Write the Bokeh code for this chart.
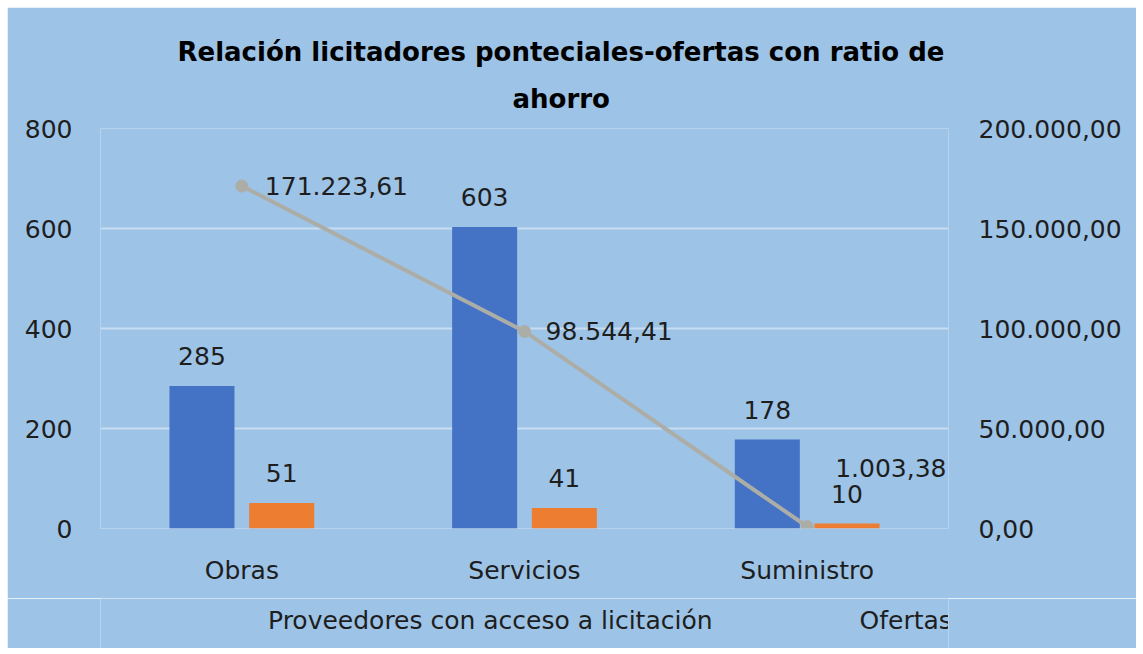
from bokeh.plotting import figure
from bokeh.models import (ColumnDataSource, Range1d, LinearAxis, FixedTicker,
                          Legend, LegendItem, Title, FactorRange, Spacer)
from bokeh.layouts import column, row
from bokeh.transform import dodge
from bokeh.core.properties import value
from bokeh.embed import file_html
from bokeh.resources import INLINE

# ---- data ----
categories = ["Obras", "Servicios", "Suministro"]
proveedores = [285, 603, 178]
ofertas = [51, 41, 10]
ratio_ahorro = [171223.61, 98544.41, 1003.38]

left_ticks = [0, 200, 400, 600, 800]
right_ticks = [0, 50000, 100000, 150000, 200000]
right_tick_labels = ["0,00", "50.000,00", "100.000,00", "150.000,00", "200.000,00"]

title_line1 = "Relación licitadores ponteciales-ofertas con ratio de"
title_line2 = "ahorro"
legend_labels = ["Proveedores con acceso a licitación", "Ofertas presentadas"]


def es_fmt(v, dec=2):
    s = f"{v:,.{dec}f}"
    return s.replace(",", "X").replace(".", ",").replace("X", ".")


# ---- styling ----
FONT = "DejaVu Sans"
BG = "#9DC3E6"
BLUE = "#4472C4"
ORANGE = "#ED7D31"
GRAY = "#ADADA8"
TXT = "#1e1e1e"

# label offsets (layout only)
line_lbl_dx = [23, 21, 28]
line_lbl_dy = [0, 0, -58]

src = ColumnDataSource(dict(
    cat=categories,
    prov=proveedores,
    ofe=ofertas,
    ratio=ratio_ahorro,
    prov_lbl=[str(v) for v in proveedores],
    ofe_lbl=[str(v) for v in ofertas],
    ratio_lbl=[es_fmt(v) for v in ratio_ahorro],
    dx=line_lbl_dx,
    dy=line_lbl_dy,
))

p = figure(width=1129, height=591, x_range=FactorRange(*categories),
           y_range=Range1d(0, 800), output_backend="svg", toolbar_location=None,
           min_border_left=93, min_border_right=188, min_border_top=121,
           min_border_bottom=70)
p.background_fill_color = BG
p.border_fill_color = BG
p.outline_line_color = None
p.x_range.range_padding = 0

p.extra_y_ranges = {"right": Range1d(0, 200000)}

# bars
r_prov = p.vbar(x=dodge("cat", -0.141, range=p.x_range), top="prov", width=0.23,
                source=src, fill_color=BLUE, line_color=None)
r_ofe = p.vbar(x=dodge("cat", 0.141, range=p.x_range), top="ofe", width=0.23,
               source=src, fill_color=ORANGE, line_color=None)

# bar labels
for col, off in (("prov", -0.141), ("ofe", 0.141)):
    p.text(x=dodge("cat", off, range=p.x_range), y=col, text=col + "_lbl", source=src,
           text_align="center", text_baseline="middle", y_offset=-30,
           text_font=value(FONT), text_font_size="25px", text_color=TXT)

# line
p.line(x="cat", y="ratio", source=src, y_range_name="right", line_color=GRAY,
       line_width=4)
p.scatter(x="cat", y="ratio", source=src, y_range_name="right", size=12,
          fill_color=GRAY, line_color=GRAY)
p.text(x="cat", y="ratio", text="ratio_lbl", source=src, y_range_name="right",
       x_offset="dx", y_offset="dy", text_align="left", text_baseline="middle",
       text_font=value(FONT), text_font_size="25px", text_color=TXT)

# axes
p.yaxis.ticker = FixedTicker(ticks=left_ticks)
p.yaxis.axis_line_color = None
p.yaxis.major_tick_line_color = None
p.yaxis.major_tick_out = 0
p.yaxis.minor_tick_line_color = None
p.yaxis.major_label_standoff = 28
p.yaxis.major_label_text_font = FONT
p.yaxis.major_label_text_font_size = "25px"
p.yaxis.major_label_text_color = TXT

ax_r = LinearAxis(y_range_name="right", ticker=FixedTicker(ticks=right_ticks),
                  major_label_overrides={t: l for t, l in zip(right_ticks, right_tick_labels)})
ax_r.axis_line_color = None
ax_r.major_tick_line_color = None
ax_r.major_tick_out = 0
ax_r.minor_tick_line_color = None
ax_r.major_label_standoff = 30
ax_r.major_label_text_font = FONT
ax_r.major_label_text_font_size = "25px"
ax_r.major_label_text_color = TXT
p.add_layout(ax_r, "right")

p.xaxis.axis_line_color = None
p.xaxis.major_tick_line_color = None
p.xaxis.major_tick_out = 0
p.xaxis.major_label_standoff = 27
p.xaxis.major_label_text_font = FONT
p.xaxis.major_label_text_font_size = "25px"
p.xaxis.major_label_text_color = TXT

p.xgrid.grid_line_color = None
p.ygrid.grid_line_color = "#C8DDF1"
p.ygrid.grid_line_width = 2

# title (second line added first so it sits closest to the plot)
p.add_layout(Title(text=title_line2, align="left", offset=412, standoff=30,
                   text_font=FONT, text_font_style="bold", text_font_size="26px",
                   text_color="#000000"), "above")
p.add_layout(Title(text=title_line1, align="left", offset=77, standoff=0,
                   text_font=FONT, text_font_style="bold", text_font_size="26px",
                   text_color="#000000"), "above")

# legend strip below the chart
p2 = figure(width=1129, height=50, x_range=Range1d(0, 1), y_range=Range1d(0, 1),
            output_backend="svg", toolbar_location=None, x_axis_type=None,
            y_axis_type=None, min_border=0)
p2.background_fill_color = BG
p2.border_fill_color = BG
p2.outline_line_color = None
p2.grid.visible = False
lg_prov = p2.vbar(x=[], top=[], width=0.1, fill_color=BLUE, line_color=None)
lg_ofe = p2.vbar(x=[], top=[], width=0.1, fill_color=ORANGE, line_color=None)

legend = Legend(items=[LegendItem(label=legend_labels[0], renderers=[lg_prov]),
                       LegendItem(label=legend_labels[1], renderers=[lg_ofe])],
                orientation="horizontal", location=(111, 13),
                glyph_width=52, glyph_height=16, label_standoff=5, spacing=90,
                padding=0, margin=0, background_fill_alpha=0,
                border_line_color=None, label_text_font=FONT,
                label_text_font_size="25px", label_text_color=TXT)
p2.add_layout(legend, "center")

layout = column(Spacer(height=7), row(Spacer(width=7), column(p, p2)))

open("out.html", "w").write(file_html(layout, INLINE))
